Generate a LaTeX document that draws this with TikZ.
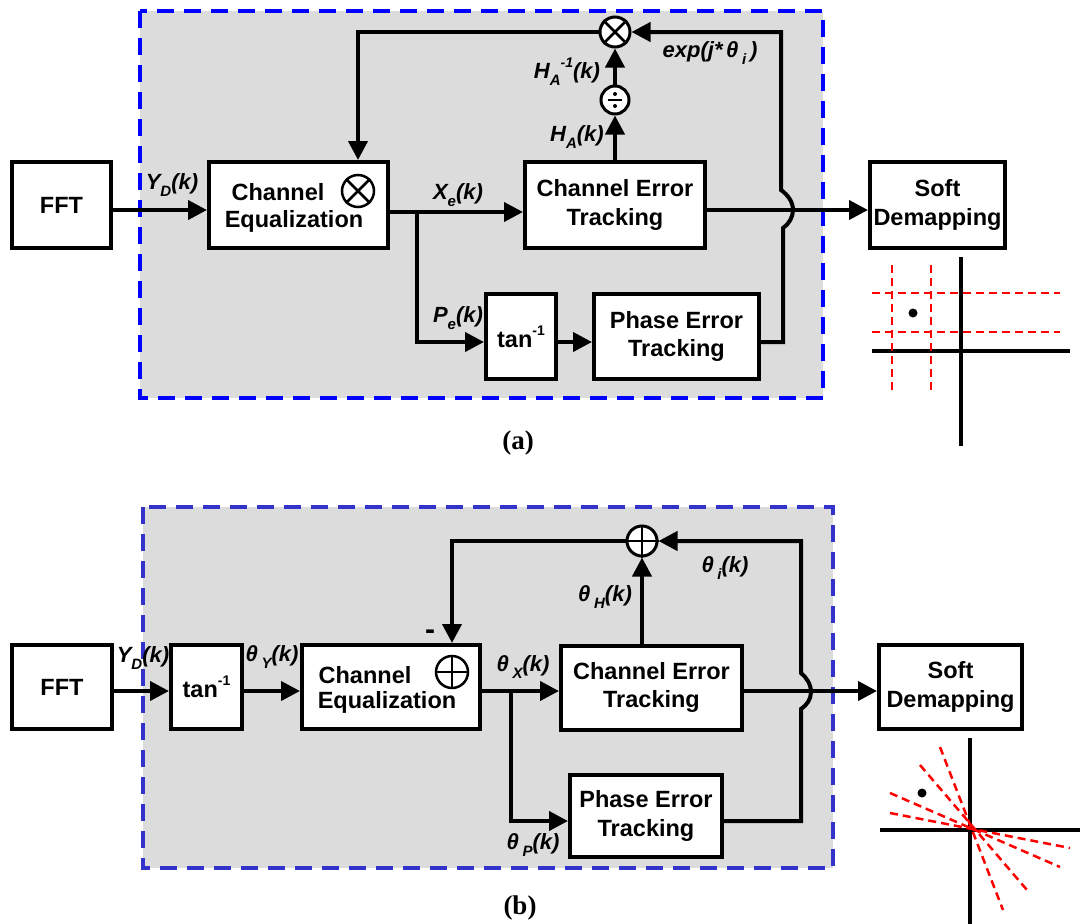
\documentclass[tikz,border=0pt]{standalone}
\usepackage{fontspec}
\setmainfont{Liberation Sans}
\newfontfamily\capfont{Liberation Serif}
\usetikzlibrary{arrows.meta,calc}
\definecolor{panelgray}{RGB}{220,220,220}
\definecolor{blueA}{RGB}{0,0,255}
\definecolor{blueB}{RGB}{51,51,204}
\definecolor{redd}{RGB}{255,0,0}
\newcommand\boxfont{\bfseries\fontsize{23.5}{28.5}\selectfont}
\newcommand\labfont{\bfseries\itshape\fontsize{22}{22}\selectfont}
\newcommand\lsub[1]{\raisebox{-0.32em}{\fontsize{15}{15}\selectfont #1}}
\newcommand\lsup[1]{\raisebox{0.5em}{\fontsize{14}{14}\selectfont #1}}
\begin{document}
\begin{tikzpicture}[x=1pt,y=-1pt,
  blk/.style={draw=black, line width=4pt, fill=white, inner sep=0pt, align=center, font=\boxfont},
  txt/.style={font=\boxfont, inner sep=0pt},
  lab/.style={font=\labfont, inner sep=0pt},
  conn/.style={line width=4pt, -{Triangle[length=19pt,width=19pt]}},
  opnode/.style={circle, draw=black, line width=3pt, fill=white, minimum size=30pt, inner sep=0pt},
  insym/.style={circle, draw=black, line width=2.5pt, minimum size=32pt, inner sep=0pt},
  oplines/.style={line width=2.5pt},
  reddash/.style={draw=redd, line width=2.5pt, dash pattern=on 8pt off 5pt},
  axisline/.style={line width=4pt},
  panelA/.style={draw=blueA, fill=panelgray, line width=4pt, dash pattern=on 17pt off 10pt},
  panelB/.style={draw=blueB, fill=panelgray, line width=4pt, dash pattern=on 17pt off 10pt},
  capf/.style={font=\capfont\bfseries\fontsize{27}{27}\selectfont, inner sep=0pt}
]
\useasboundingbox (0,0) rectangle (1080,924);

% ---------------- (a) ----------------
\draw[panelA] (140,11) rectangle (823,398);

\node[blk, minimum width=99pt, minimum height=86pt] (fftA) at (61.5,205) {FFT};
\node[blk, minimum width=179pt, minimum height=86pt] (ceA) at (298.5,205) {};
\node[txt] (ceA1) at (278,192) {Channel};
\node[txt] (ceA2) at (294,221) {Equalization};
\node[insym] (ceXA) at (358,191) {};
\draw[oplines] (ceXA.north west) -- (ceXA.south east) (ceXA.north east) -- (ceXA.south west);
\node[blk, minimum width=180pt, minimum height=86pt] (cetA) at (615,205) {Channel Error\\Tracking};
\node[blk, minimum width=70pt, minimum height=85pt] (tanA) at (521,336.5) {tan\lsup{-1}};
\node[blk, minimum width=165pt, minimum height=85pt] (petA) at (676.5,336.5) {Phase Error\\Tracking};
\node[blk, minimum width=135pt, minimum height=86pt] (softA) at (937.5,205) {Soft\\Demapping};
\node[opnode] (mulA) at (615,32) {};
\draw[oplines] (mulA.north west) -- (mulA.south east) (mulA.north east) -- (mulA.south west);
\node[opnode, minimum size=28pt] (divA) at (615,100) {};
\draw[oplines] ([xshift=-7pt]divA.center) -- ([xshift=7pt]divA.center);
\fill ([yshift=6pt]divA.center) circle (2pt);
\fill ([yshift=-6pt]divA.center) circle (2pt);

\coordinate (rA) at (0,210);
\coordinate (rA2) at (0,212);
\coordinate (rPA) at (0,342);
\coordinate (brA) at (417,212);
\draw[conn] (fftA.east |- rA) -- (ceA.west |- rA);
\draw[conn] (ceA.east |- rA2) -- (cetA.west |- rA2);
\draw[conn] (brA) |- (tanA.west |- rPA);
\draw[conn] (tanA.east |- rPA) -- (petA.west |- rPA);
\draw[conn] (cetA.east |- rA) -- (softA.west |- rA);
\draw[conn] (petA.east |- rPA) -- (783,342) -- (783,228)
   .. controls (789,224) and (793,217) .. (793,210)
   .. controls (793,202) and (788,195) .. (781,190) -- (781,32) -- (mulA.east);
\draw[conn] (cetA.north) -- (divA.south);
\draw[conn] (divA.north) -- (mulA.south);
\draw[conn] (mulA.west) -| (ceXA |- ceA.north);

\node[lab] (lYA) at (172,185) {Y\lsub{D}(k)};
\node[lab] (lXA) at (458,195) {X\lsub{e}(k)};
\node[lab] (lPA) at (458,318) {P\lsub{e}(k)};
\node[lab] (lHA) at (577,137) {H\lsub{A}(k)};
\node[lab] (lHiA) at (567,72) {H\lsub{A}\lsup{-1}(k)};
\node[lab] (lexA) at (710,53) {exp(j*\,θ\,\lsub{i}\,)};
\node[capf] (capA) at (518,443) {(a)};

% constellation (a)
\draw[axisline] (961,257) -- (961,446);
\draw[axisline] (872,351) -- (1070,351);
\draw[reddash] (892,265) -- (892,394);
\draw[reddash] (931,265) -- (931,394);
\draw[reddash] (872,293) -- (1060,293);
\draw[reddash] (872,332) -- (1060,332);
\fill (913,313) circle (4.5pt);

% ---------------- (b) ----------------
\draw[panelB] (143,507) rectangle (833,868);

\node[blk, minimum width=100pt, minimum height=84pt] (fftB) at (62,687) {FFT};
\node[blk, minimum width=71pt, minimum height=84pt] (tanB) at (206.5,687) {tan\lsup{-1}};
\node[blk, minimum width=178pt, minimum height=84pt] (ceB) at (391,687) {};
\node[txt] (ceB1) at (365,675) {Channel};
\node[txt] (ceB2) at (387,702) {Equalization};
\node[insym] (ceXB) at (452,672) {};
\draw[oplines] (ceXB.north) -- (ceXB.south) (ceXB.west) -- (ceXB.east);
\node[blk, minimum width=181pt, minimum height=84pt] (cetB) at (651.5,687.5) {Channel Error\\Tracking};
\node[blk, minimum width=152pt, minimum height=82pt] (petB) at (646,816) {Phase Error\\Tracking};
\node[blk, minimum width=143pt, minimum height=84pt] (softB) at (950.5,687) {Soft\\Demapping};
\node[opnode] (addB) at (642,541) {};
\draw[oplines] (addB.north) -- (addB.south) (addB.west) -- (addB.east);

\coordinate (rB) at (0,691);
\coordinate (rPB) at (0,821);
\coordinate (brB) at (511,691);
\draw[conn] (fftB.east |- rB) -- (tanB.west |- rB);
\draw[conn] (tanB.east |- rB) -- (ceB.west |- rB);
\draw[conn] (ceB.east |- rB) -- (cetB.west |- rB);
\draw[conn] (brB) |- (petB.west |- rPB);
\draw[conn] (cetB.east |- rB) -- (softB.west |- rB);
\draw[conn] (petB.east |- rPB) -- (801,821) -- (801,709)
   .. controls (807,705) and (811,699) .. (811,692)
   .. controls (811,684) and (806,677) .. (801,673) -- (801,541) -- (addB.east);
\draw[conn] (cetB.north -| addB) -- (addB.south);
\draw[conn] (addB.west) -| (ceXB |- ceB.north);

\node[lab] (lYB) at (143,658) {Y\lsub{D}(k)};
\node[lab] (lTYB) at (272,657) {θ\,\lsub{Y}(k)};
\node[lab] (lTXB) at (523,667) {θ\,\lsub{X}(k)};
\node[lab] (lTPB) at (533,845) {θ\,\lsub{P}(k)};
\node[lab] (lTHB) at (605,597) {θ\,\lsub{H}(k)};
\node[lab] (lTiB) at (725,568) {θ\,\lsub{i}(k)};
\node[font=\bfseries\fontsize{30}{30}\selectfont, inner sep=0pt] (minusB) at (430,635) {-};
\node[capf] (capB) at (520,908) {(b)};

% constellation (b)
\draw[axisline] (970,738) -- (970,924);
\draw[axisline] (880,830) -- (1080,830);
\draw[reddash] (940,747) -- (1003,910);
\draw[reddash] (920,765) -- (1027,890);
\draw[reddash] (890,793) -- (1060,867);
\draw[reddash] (890,813) -- (1070,848);
\fill (922,793) circle (4.5pt);
\end{tikzpicture}
\end{document}
